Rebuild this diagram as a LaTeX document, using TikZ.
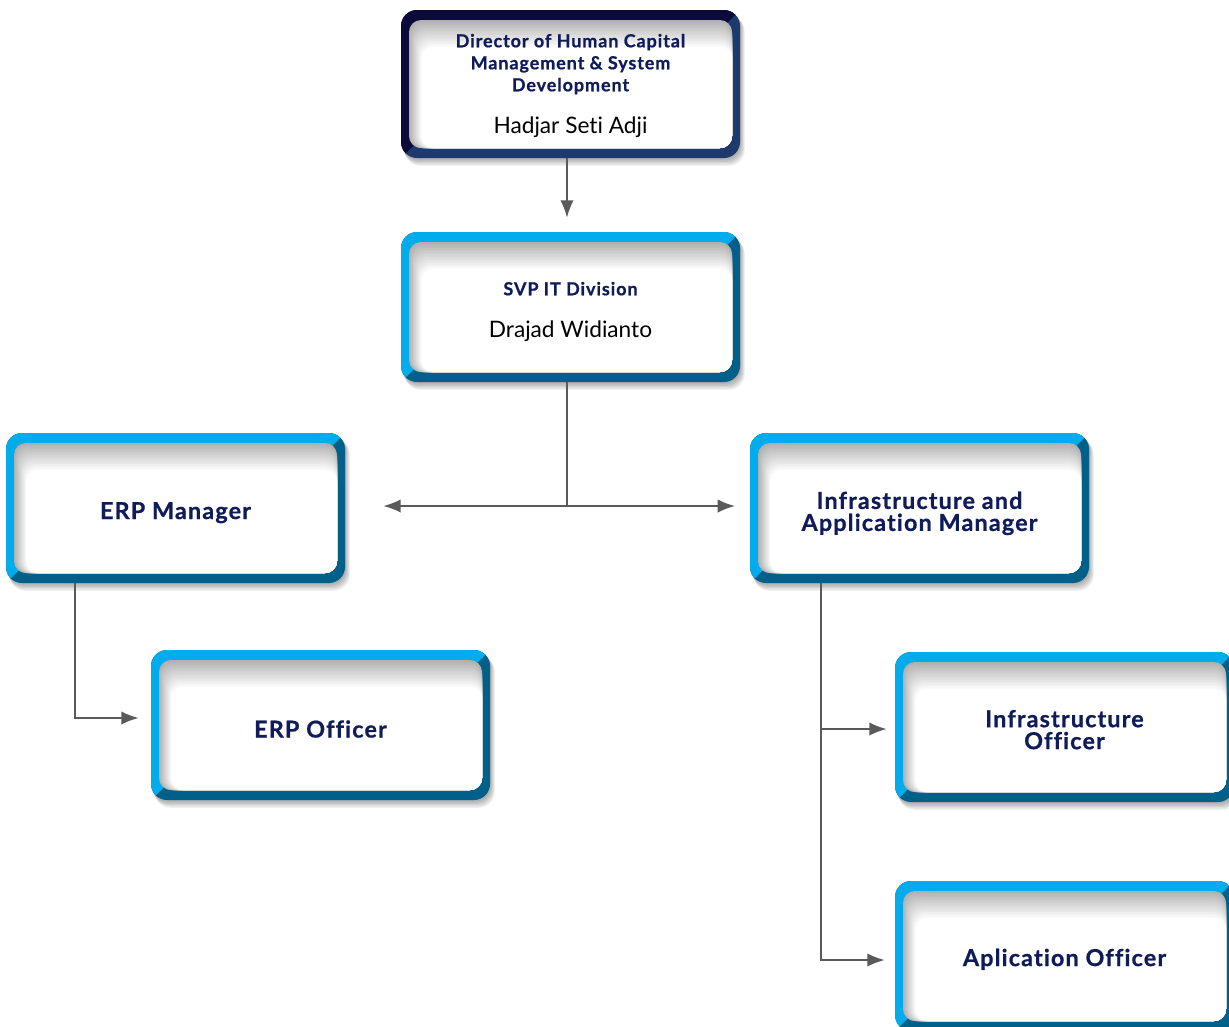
\documentclass[tikz,border=0pt]{standalone}
\usepackage{fontspec}
\setmainfont{Lato}[Ligatures=NoCommon]
\newfontfamily\headfont{Lato}[LetterSpace=5, Ligatures=NoCommon, BoldFeatures={FakeBold=0.7}]
\usetikzlibrary{calc,arrows.meta}

\definecolor{navytext}{RGB}{16,27,90}
\definecolor{linegray}{RGB}{90,90,90}
\definecolor{skyframe}{RGB}{0,172,236}
\definecolor{tealframe}{RGB}{0,96,138}
\definecolor{inkframe}{RGB}{12,10,58}
\definecolor{steelframe}{RGB}{30,58,108}

\tikzset{
  boxnode/.style={rectangle, inner sep=0pt},
  labelnode/.style={inner sep=0pt, align=center, text=navytext},
  smallhead/.style={labelnode, font=\headfont\bfseries\fontsize{13.5}{16.5}\selectfont},
  bighead/.style={labelnode, font=\headfont\bfseries\fontsize{17.5}{16.5}\selectfont},
  link/.style={draw=linegray, line width=1.5pt},
  arr/.style={link, -{Latex[length=13pt,width=10pt]}},
}

% #1 name, #2-#5 outer corners (px), #6 upper-left frame colour,
% #7 lower-right frame colour, #8 label style, #9 label
\newcommand\orgbox[9]{%
  % soft drop shadow
  \foreach \s in {1,...,6}{%
    \fill[black, opacity=0.06, rounded corners=12]
      (#2+\s*0.6,#3+\s) rectangle (#4+\s*0.8,#5+\s*1.3);}
  % bevelled frame
  \fill[#7, rounded corners=12] (#2,#3) rectangle (#4,#5);
  \begin{scope}
    \clip (#2-1,#3-1) -- (#4+1,#3-1) -- (#4-16,#3+16) -- (#2+16,#5-16) -- (#2-1,#5+1) -- cycle;
    \fill[#6, rounded corners=12] (#2,#3) rectangle (#4,#5);
  \end{scope}
  % white panel with inner shadow along the top and left
  \foreach \k [evaluate=\k as \g using int(62-62*\k/18)] in {0,...,18}{%
    \fill[gray!\g!white, rounded corners=9]
      (#2+8+\k*0.7,#3+10+\k*1.5) rectangle (#4-8,#5-10);}
  % the box itself (for connectors) and its label
  \node[boxnode, minimum width={(#4-#2)*0.75pt}, minimum height={(#5-#3)*0.75pt}]
    (#1) at ({(#2+#4)/2},{(#3+#5)/2}) {};
  \node[#8] (#1-label) at (#1.center) {#9};
}

\newcommand\person[1]{{\normalfont\fontsize{17}{16.5}\selectfont\color{black}#1}}

\begin{document}
\begin{tikzpicture}[x=0.75pt, y=-0.75pt]
\useasboundingbox (0,0) rectangle (1229,1026);
\fill[white] (0,0) rectangle (1229,1026);

\orgbox{dir}{401}{10}{740}{158}{inkframe}{steelframe}{smallhead, yshift=-1.5pt}
  {Director of Human Capital\\Management \& System\\Development\\[15.5pt]\person{Hadjar Seti Adji}}
\orgbox{svp}{401}{232}{740}{382}{skyframe}{tealframe}{smallhead, yshift=-3.5pt}
  {SVP IT Division\\[15pt]\person{Drajad Widianto}}
\orgbox{erpm}{6}{433}{345}{583}{skyframe}{tealframe}{bighead, yshift=-3.5pt}{ERP Manager}
\orgbox{infm}{750}{433}{1089}{583}{skyframe}{tealframe}{bighead, yshift=-4pt}
  {Infrastructure and\\Application Manager}
\orgbox{erpo}{151}{650}{490}{800}{skyframe}{tealframe}{bighead, yshift=-3pt}{ERP Officer}
\orgbox{info}{895}{652}{1234}{802}{skyframe}{tealframe}{bighead, yshift=-2pt}
  {Infrastructure\\Officer}
\orgbox{apo}{895}{881}{1234}{1031}{skyframe}{tealframe}{bighead, yshift=-2.5pt}{Aplication Officer}

% reporting lines
\coordinate (dirfoot) at ($(dir.south)+(-3.5,0)$);
\draw[arr, shorten >=10.5pt] (dirfoot) -- (dirfoot |- svp.north);
\coordinate (svpfoot) at ($(svp.south)+(-3.5,0)$);
\coordinate (split) at (svpfoot |- 0,506);
\draw[link] (svpfoot) -- (split);
\draw[arr, shorten >=28.5pt] (split) -- (split -| erpm.east);
\draw[arr, shorten >=11pt] (split) -- (split -| infm.west);

\coordinate (erpdrop) at ($(erpm.south west)+(69,0)$);
\draw[arr, shorten >=9pt] (erpdrop) |- ($(erpo.west)+(0,-7)$);

\coordinate (infdrop) at ($(infm.south west)+(71,0)$);
\draw[arr, shorten >=6pt] (infdrop) |- ($(info.west)+(0,2)$);
\draw[arr, shorten >=7.5pt] (infdrop) |- ($(apo.west)+(0,4)$);
\end{tikzpicture}
\end{document}
